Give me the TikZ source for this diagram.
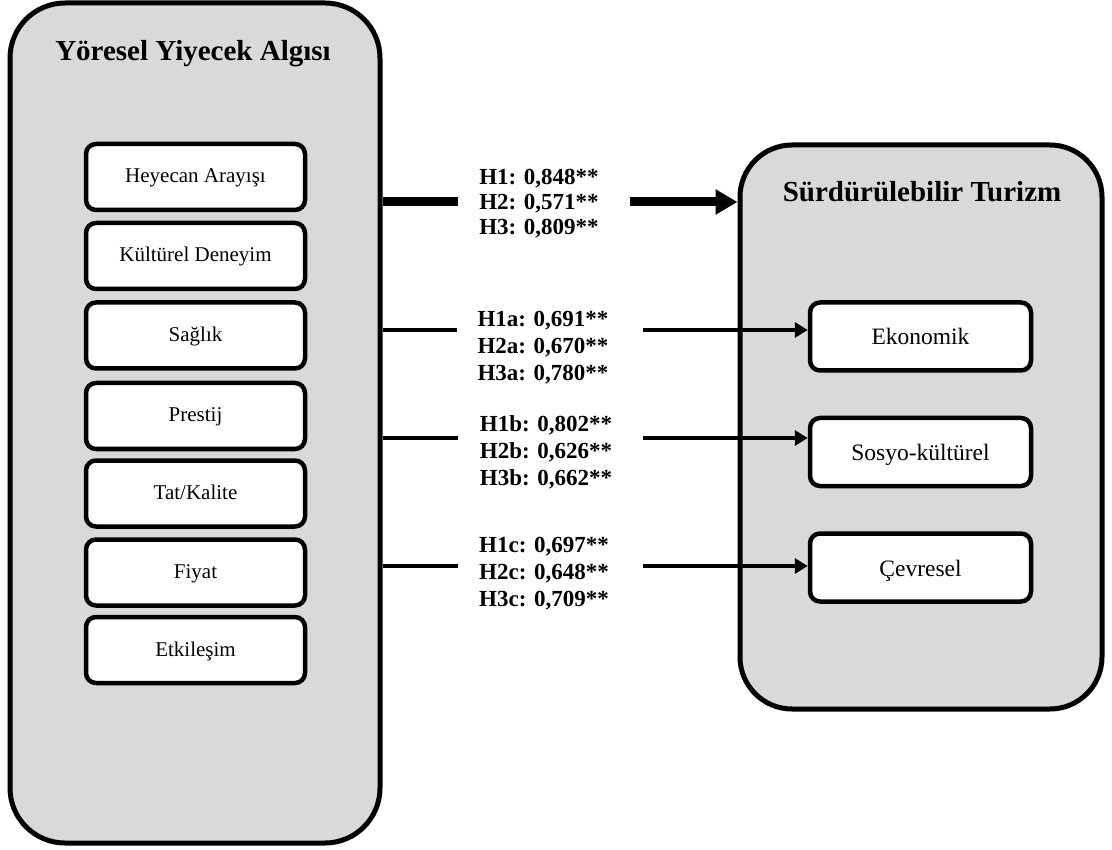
\documentclass[tikz,border=0pt]{standalone}
\usepackage{fontspec}
\setmainfont{Liberation Serif}
\usetikzlibrary{arrows.meta}
\definecolor{boxgray}{HTML}{D9D9D9}
\begin{document}
\begin{tikzpicture}[x=1pt,y=-1pt,
  bigbox/.style={draw=black, line width=5pt, fill=boxgray, inner sep=0pt},
  itembox/.style={draw=black, line width=4.5pt, fill=white, rounded corners=10pt,
    minimum width=219pt, minimum height=66pt, inner sep=0pt,
    font=\fontsize{21}{24}\selectfont, text height=15.5pt, text depth=3.5pt},
  dimbox/.style={itembox, minimum width=221pt, minimum height=68pt,
    font=\fontsize{23.5}{26}\selectfont, text height=18pt, text depth=1pt},
  titletext/.style={font=\fontsize{29}{32}\selectfont\bfseries, anchor=base, inner sep=0pt},
  coef/.style={font=\fontsize{23}{27}\selectfont\bfseries, align=center, inner sep=0pt},
  thickline/.style={line width=9pt},
  thinline/.style={line width=4pt},
]
\useasboundingbox (0,0) rectangle (1112,850);

% big containers
\node[bigbox, rounded corners=55pt, minimum width=370pt, minimum height=840pt] (L) at (195,423) {};
\node[bigbox, rounded corners=52pt, minimum width=362pt, minimum height=564pt] (R) at (921,427) {};

% titles
\node[titletext] (tL) at (193,61) {Yöresel Yiyecek Algısı};
\node[titletext] (tR) at (922,202) {Sürdürülebilir Turizm};

% left items
\node[itembox] (i1) at (195.5,177) {Heyecan Arayışı};
\node[itembox] (i2) at (195.5,256) {Kültürel Deneyim};
\node[itembox] (i3) at (195.5,335.5) {Sağlık};
\node[itembox] (i4) at (195.5,416) {Prestij};
\node[itembox] (i5) at (195.5,493.5) {Tat/Kalite};
\node[itembox] (i6) at (195.5,572.5) {Fiyat};
\node[itembox] (i7) at (195.5,650) {Etkileşim};

% right items
\node[dimbox] (eko) at (920.5,336.5) {Ekonomik};
\node[dimbox] (sos) at (920.5,452) {Sosyo-kültürel};
\node[dimbox] (cev) at (920.5,567.5) {Çevresel};

% coefficient labels
\node[coef, font=\fontsize{23}{25}\selectfont\bfseries] (c1) at (539,204) {H1: 0,848**\\H2: 0,571**\\H3: 0,809**};
\node[coef] (ca) at (543,347.4) {H1a: 0,691**\\H2a: 0,670**\\H3a: 0,780**};
\node[coef] (cb) at (546,452.4) {H1b: 0,802**\\H2b: 0,626**\\H3b: 0,662**};
\node[coef] (cc) at (544,574) {H1c: 0,697**\\H2c: 0,648**\\H3c: 0,709**};

% gap ends of connectors
\coordinate (g1l) at (458,202);
\coordinate (g1r) at (630,202);
\coordinate (gal) at (457,330);
\coordinate (gar) at (643,330);
\coordinate (gbl) at (458,438);
\coordinate (gbr) at (643,438);
\coordinate (gcl) at (458,566);
\coordinate (gcr) at (643,566);

% connectors
\draw[thickline] (L.east |- g1l) -- (g1l);
\draw[thickline, -{Triangle[length=22pt,width=24pt]}] (g1r) -- (R.west |- g1r);

\draw[thinline] (L.east |- gal) -- (gal);
\draw[thinline, -{Triangle[length=13pt,width=15pt]}] (gar) -- (eko.west |- gar);

\draw[thinline] (L.east |- gbl) -- (gbl);
\draw[thinline, -{Triangle[length=13pt,width=15pt]}] (gbr) -- (sos.west |- gbr);

\draw[thinline] (L.east |- gcl) -- (gcl);
\draw[thinline, -{Triangle[length=13pt,width=15pt]}] (gcr) -- (cev.west |- gcr);
\end{tikzpicture}
\end{document}
